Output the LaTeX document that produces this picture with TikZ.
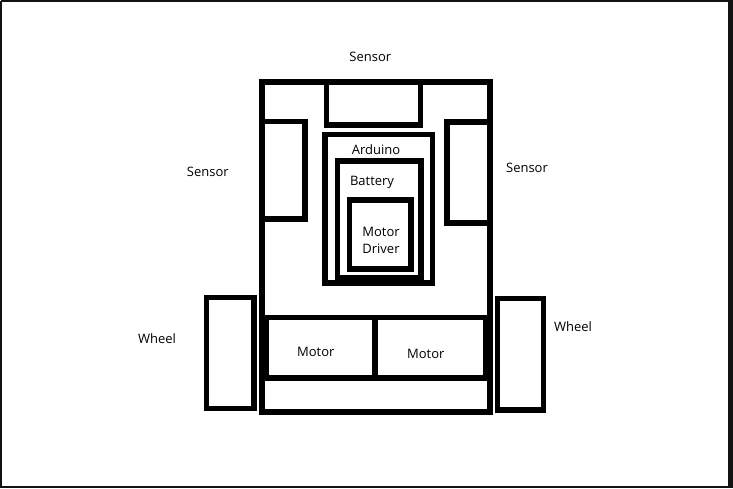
\documentclass[tikz,border=0pt]{standalone}
\usepackage{fontspec}
\setmainfont{Open Sans}
\usepackage{tikz}
\usetikzlibrary{positioning}
\tikzset{
  box/.style    ={draw, rectangle, line width=5.5pt, inner sep=0pt, outer sep=0pt},
  lbl/.style    ={inner sep=0pt, font=\fontsize{13}{17}\selectfont, align=center},
  frame/.style  ={draw=black!93, line width=2pt},
}

\begin{document}
\begin{tikzpicture}[x=1pt, y=-1pt]
  \useasboundingbox (0,0) rectangle (733,488);
  % screenshot frame
  \draw[frame] (1,1) -- (1,487) -- (730,487);
  \draw[frame] (1,1) -- (730,1);
  \fill[black!93] (728,0) rectangle (733,488);

  % chassis
  \node[box, minimum width=228pt, minimum height=330pt] (body) at (376,247) {};

  % sensors
  \node[box, minimum width=94pt,  minimum height=43pt]    (senT) at (373.5,103.5)  {};
  \node[box, minimum width=43pt,  minimum height=97.5pt]  (senL) at (283.5,170.25) {};
  \node[box, minimum width=43pt,  minimum height=101pt]   (senR) at (468.5,172.5)  {};

  % stacked boards
  \node[box, minimum width=107.5pt, minimum height=148.5pt] (ard) at (378.75,208.75) {};
  \node[box, minimum width=83.3pt,  minimum height=117pt]   (bat) at (379.35,219.5)  {};
  \node[box, minimum width=61.7pt,  minimum height=69pt]    (drv) at (380.15,234.5)  {};

  % motors
  \node[box, minimum width=109pt, minimum height=60.5pt] (motL) at (320.5,347.75) {};
  \node[box, minimum width=111pt, minimum height=60.5pt] (motR) at (430.5,347.75) {};

  % wheels
  \node[box, minimum width=47.3pt, minimum height=111pt]   (whL) at (230.35,353)   {};
  \node[box, minimum width=46pt,   minimum height=111.5pt] (whR) at (520.5,354.25) {};

  % labels
  \node[lbl] (tSenT) at (370.3,56.5) {Sensor};
  \node[lbl] (tSenL) at (207.8,172)  {Sensor};
  \node[lbl] (tSenR) at (527,167.5)  {Sensor};
  \node[lbl] (tArd)  at (376,150)    {Arduino};
  \node[lbl] (tBat)  at (372,182)    {Battery};
  \node[lbl] (tDrv)  at (381,240)    {Motor\\Driver};
  \node[lbl] (tMotL) at (315.8,351.5) {Motor};
  \node[lbl] (tMotR) at (425.8,353.8) {Motor};
  \node[lbl] (tWhL)  at (157,339)    {Wheel};
  \node[lbl] (tWhR)  at (573,326.7)  {Wheel};
\end{tikzpicture}
\end{document}
